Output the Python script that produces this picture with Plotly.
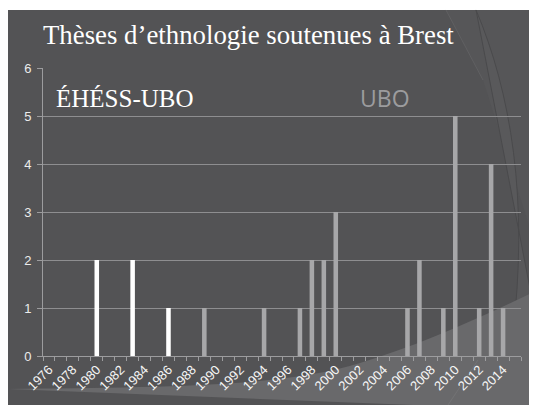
import plotly.graph_objects as go

# ---- data ----
years = list(range(1976, 2016))
ehess_years = [1980, 1983, 1986]
ehess_values = [2, 2, 1]
ubo_years = [1989, 1994, 1997, 1998, 1999, 2000, 2006, 2007, 2009, 2010, 2012, 2013, 2014]
ubo_values = [1, 1, 1, 2, 2, 3, 1, 2, 1, 5, 1, 4, 1]
tick_years = list(range(1976, 2015, 2))
tick_labels = [str(y) for y in tick_years]

title_text = "Thèses d’ethnologie soutenues à Brest"
label_ehess = "ÉHÉSS-UBO"
label_ubo = "UBO"

# page has an 8px body margin; work in screenshot pixels and shift
OFF = 8
W, H = 529, 397
L, R, T, B = 35, 16, 60, 49
PW, PH = W - L - R, H - T - B

SERIF = "Liberation Serif, Times New Roman, DejaVu Serif, serif"
SANS = "Liberation Sans, Arial, DejaVu Sans, sans-serif"


def px(x):
    return (x - OFF - L) / PW


def py(y):
    return (H - B - (y - OFF)) / PH


def path(points, close=True):
    s = "M " + " L ".join(f"{px(x):.4f},{py(y):.4f}" for x, y in points)
    return s + (" Z" if close else "")


def cpath(cmds):
    out = []
    for c, pts in cmds:
        out.append(c + " " + " ".join(f"{px(x):.4f},{py(y):.4f}" for x, y in pts))
    return " ".join(out)


fig = go.Figure()
fig.add_trace(go.Bar(x=ehess_years, y=ehess_values, width=0.38,
                     marker=dict(color="#ffffff", line=dict(width=0)),
                     name=label_ehess, showlegend=False))
fig.add_trace(go.Bar(x=ubo_years, y=ubo_values, width=0.38,
                     marker=dict(color="#a7a7a9", line=dict(width=0)),
                     name=label_ubo, showlegend=False))

shapes = []
# dark slide background
shapes.append(dict(type="path", xref="paper", yref="paper", layer="below",
                   path=path([(8, 10), (540, 10), (540, 410), (8, 410)]),
                   fillcolor="#535355", line=dict(width=0)))
# top-right lighter wedge
shapes.append(dict(type="path", xref="paper", yref="paper", layer="below",
                   path=path([(446, 10), (540, 10), (540, 260), (483, 80)]),
                   fillcolor="#565658", line=dict(width=0)))
shapes.append(dict(type="path", xref="paper", yref="paper", layer="below",
                   path=path([(446, 10), (483, 80)], close=False),
                   line=dict(color="#606062", width=1)))
# right arc region
shapes.append(dict(type="path", xref="paper", yref="paper", layer="below",
                   path=cpath([("M", [(476, 10)]), ("C", [(510, 90), (530, 200), (512, 340)]),
                               ("L", [(540, 340), (540, 10)]), ("Z", [])]),
                   fillcolor="#59595b", line=dict(color="#4a4a4c", width=1)))
# lower light band
shapes.append(dict(type="path", xref="paper", yref="paper", layer="below",
                   path=cpath([("M", [(8, 389)]), ("C", [(150, 387), (280, 388), (360, 363)]),
                               ("C", [(420, 345), (480, 318), (540, 289)]),
                               ("L", [(540, 410), (8, 410)]), ("Z", [])]),
                   fillcolor="#69696b", line=dict(width=0)))
# faint diagonal at lower right
shapes.append(dict(type="path", xref="paper", yref="paper", layer="below",
                   path=path([(448, 405), (478, 360)], close=False),
                   line=dict(color="#737375", width=1)))

fig.update_layout(
    width=W, height=H,
    margin=dict(l=L, r=R, t=T, b=B, pad=0),
    paper_bgcolor="#ffffff",
    plot_bgcolor="rgba(0,0,0,0)",
    barmode="overlay",
    shapes=shapes,
    xaxis=dict(
        range=[1975.5, 2015.5], tickmode="array", tickvals=tick_years, ticktext=tick_labels,
        tickangle=-45, ticks="", showgrid=False, zeroline=False,
        showline=True, linecolor="#9c9c9e", linewidth=1,
        tickfont=dict(family=SANS, size=13, color="#f6f6f6"),
        minor=dict(ticks="outside", ticklen=4, tickcolor="#9c9c9e", tick0=1975.5, dtick=1,
                   showgrid=False),
    ),
    yaxis=dict(
        range=[0, 6], dtick=1, tick0=0, showgrid=True, gridcolor="#8e8e90", gridwidth=1,
        zeroline=False, showline=True, linecolor="#9c9c9e", linewidth=1,
        ticks="outside", ticklen=5, tickcolor="#9c9c9e",
        tickfont=dict(family=SANS, size=13, color="#ececec"),
        ticklabelstandoff=3,
    ),
    annotations=[
        dict(text=title_text, xref="paper", yref="paper", x=px(41), y=py(35),
             xanchor="left", yanchor="middle", showarrow=False,
             font=dict(family=SERIF, size=26.8, color="#ffffff")),
        dict(text=label_ehess, xref="paper", yref="paper", x=px(54), y=py(99),
             xanchor="left", yanchor="middle", showarrow=False,
             font=dict(family=SERIF, size=25, color="#ffffff")),
        dict(text=label_ubo, xref="paper", yref="paper", x=px(358), y=py(98),
             xanchor="left", yanchor="middle", showarrow=False,
             font=dict(family="Open Sans, sans-serif", size=23, color="#9c9c9e")),
    ],
)

fig.write_html("out.html")
